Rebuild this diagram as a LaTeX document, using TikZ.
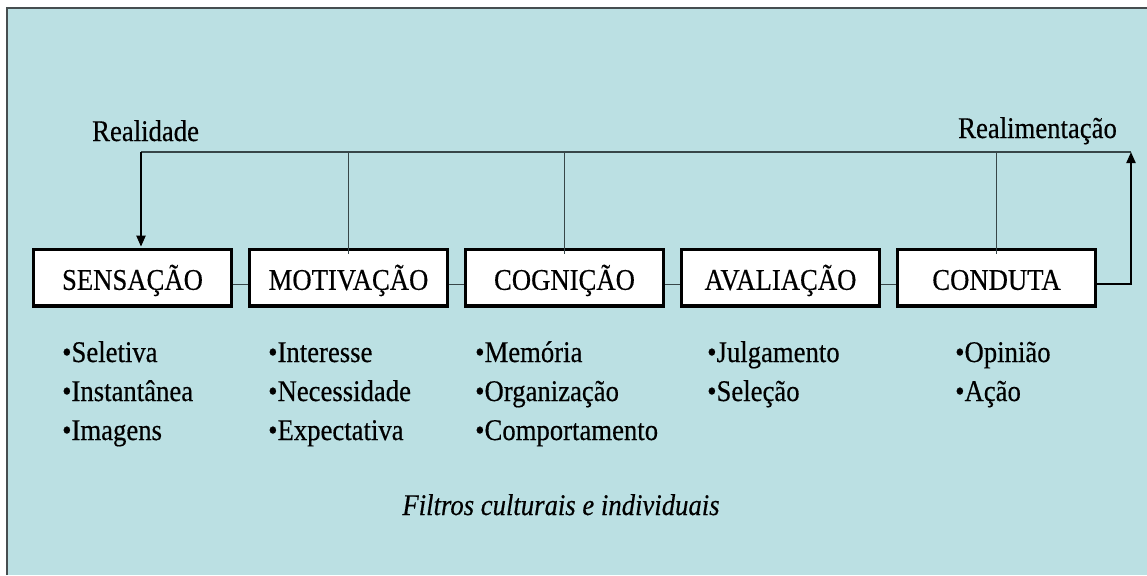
\documentclass[tikz,border=0pt]{standalone}
\usepackage{fontspec}
\setmainfont{Liberation Serif}[FakeStretch=0.89,FakeBold=0.4]
\usetikzlibrary{arrows.meta,calc}
\definecolor{bgc}{RGB}{187,224,227}
\definecolor{framec}{RGB}{70,78,80}
\definecolor{thinc}{RGB}{55,70,72}
\begin{document}
\begin{tikzpicture}[x=1pt,y=-1pt,
  stagebox/.style={draw=black,line width=3.8pt,fill=white,minimum width=198pt,minimum height=56.5pt,
    inner sep=0pt,text height=26pt,text depth=2pt,font=\fontsize{30}{33}\selectfont},
  lbl/.style={anchor=base west,inner sep=0pt,font=\fontsize{30}{33}\selectfont},
  thinline/.style={draw=thinc,line width=1.3pt},
  arrowline/.style={draw=black,line width=2pt,-{Triangle[width=9pt,length=11pt]}}]
\useasboundingbox (0,0) rectangle (1147,575);
\fill[white] (0,0) rectangle (1147,575);
\fill[bgc] (7,8) rectangle (1147,575);
\draw[framec,line width=2pt] (7,575) -- (7,8) -- (1147,8);

% boxes
\node[stagebox] (sen) at (132.5,277.8) {SENSAÇÃO};
\node[stagebox] (mot) at (348.5,277.8) {MOTIVAÇÃO};
\node[stagebox] (cog) at (564.5,277.8) {COGNIÇÃO};
\node[stagebox] (ava) at (780.5,277.8) {AVALIAÇÃO};
\node[stagebox] (con) at (996.5,277.8) {CONDUTA};

% links between boxes
\draw[thinline] ($(sen.east)+(0,7)$) -- ($(mot.west)+(0,7)$);
\draw[thinline] ($(mot.east)+(0,7)$) -- ($(cog.west)+(0,7)$);
\draw[thinline] ($(cog.east)+(0,7)$) -- ($(ava.west)+(0,7)$);
\draw[thinline] ($(ava.east)+(0,7)$) -- ($(con.west)+(0,7)$);

% top feedback line
\coordinate (rl) at (141,152);
\coordinate (rr) at (1131,152);
\draw[thinline] (rl) -- (rr);
\draw[thinline] (mot.north |- rl) -- ($(mot.north)+(0,6)$);
\draw[thinline] (cog.north |- rl) -- ($(cog.north)+(0,6)$);
\draw[thinline] (con.north |- rl) -- ($(con.north)+(0,6)$);
\draw[arrowline] (rl) -- ($(rl |- sen.north)+(0,-1)$);
\draw[arrowline] ($(con.east)+(0,6)$) -| (rr);

\node[lbl] (real) at (92,141) {Realidade};
\node[lbl] (realim) at (958,138) {Realimentação};

% bullet lists
\node[lbl] (s1) at (62,362) {\textbullet Seletiva};
\node[lbl] (s2) at (62,401) {\textbullet Instantânea};
\node[lbl] (s3) at (62,440) {\textbullet Imagens};
\node[lbl] (m1) at (268,362) {\textbullet Interesse};
\node[lbl] (m2) at (268,401) {\textbullet Necessidade};
\node[lbl] (m3) at (268,440) {\textbullet Expectativa};
\node[lbl] (c1) at (475,362) {\textbullet Memória};
\node[lbl] (c2) at (475,401) {\textbullet Organização};
\node[lbl] (c3) at (475,440) {\textbullet Comportamento};
\node[lbl] (a1) at (707,362) {\textbullet Julgamento};
\node[lbl] (a2) at (707,401) {\textbullet Seleção};
\node[lbl] (d1) at (955,362) {\textbullet Opinião};
\node[lbl] (d2) at (955,401) {\textbullet Ação};

\node[anchor=base,inner sep=0pt,font=\fontsize{30}{33}\selectfont\itshape] (filt) at (561,515) {Filtros culturais e individuais};
\end{tikzpicture}
\end{document}
